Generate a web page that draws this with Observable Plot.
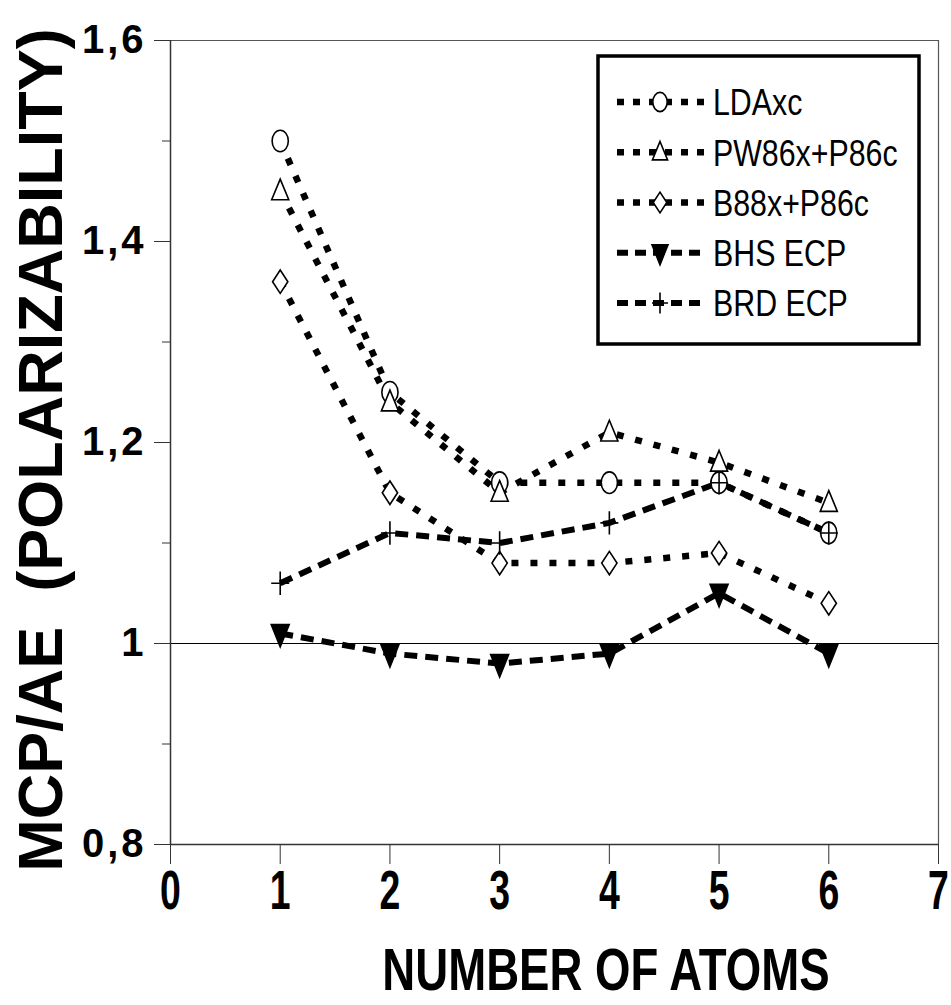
<!DOCTYPE html>
<html><head><meta charset="utf-8">
<script src="https://cdn.jsdelivr.net/npm/d3@7"></script>
<script src="https://cdn.jsdelivr.net/npm/@observablehq/plot@0.6"></script>
<style>body{margin:0;background:#fff}</style>
</head><body><div id="chart"></div>
<script>
const atoms = [1, 2, 3, 4, 5, 6];
const seriesNames = ["LDAxc", "PW86x+P86c", "B88x+P86c", "BHS ECP", "BRD ECP"];
const ldaxc = [1.50, 1.25, 1.16, 1.16, 1.16, 1.11];
const pw86 = [1.45, 1.24, 1.15, 1.21, 1.18, 1.14];
const b88 = [1.36, 1.15, 1.08, 1.08, 1.09, 1.04];
const bhs = [1.01, 0.99, 0.98, 0.99, 1.05, 0.99];
const brd = [1.06, 1.11, 1.10, 1.12, 1.16, 1.11];
const xTicks = [0, 1, 2, 3, 4, 5, 6, 7];
const yTicks = [0.8, 1.0, 1.2, 1.4, 1.6];
const yMinorTicks = [0.9, 1.1, 1.3, 1.5];
const xTitle = "NUMBER OF ATOMS";
const yTitle = "MCP/AE  (POLARIZABILITY)";

const valuesBySeries = [ldaxc, pw86, b88, bhs, brd];
const table = valuesBySeries.map((vals, i) => atoms.map((a, j) => ({series: seriesNames[i], atoms: a, value: vals[j]})));

function ellipse(ctx, rx, ry) {
  const k = 0.5523;
  ctx.moveTo(rx, 0);
  ctx.bezierCurveTo(rx, ry * k, rx * k, ry, 0, ry);
  ctx.bezierCurveTo(-rx * k, ry, -rx, ry * k, -rx, 0);
  ctx.bezierCurveTo(-rx, -ry * k, -rx * k, -ry, 0, -ry);
  ctx.bezierCurveTo(rx * k, -ry, rx, -ry * k, rx, 0);
  ctx.closePath();
}
const rOf = s => Math.sqrt(s / Math.PI);
const symCircle = {draw(ctx, s) { const r = rOf(s); ellipse(ctx, r * 0.9, r * 1.2); }};
const symTriUp = {draw(ctx, s) { const r = rOf(s); ctx.moveTo(0, -1.35 * r); ctx.lineTo(0.95 * r, 0.95 * r); ctx.lineTo(-0.95 * r, 0.95 * r); ctx.closePath(); }};
const symDiamond = {draw(ctx, s) { const r = rOf(s); ctx.moveTo(0, -1.3 * r); ctx.lineTo(0.85 * r, 0); ctx.lineTo(0, 1.3 * r); ctx.lineTo(-0.85 * r, 0); ctx.closePath(); }};
const symTriDown = {draw(ctx, s) { const r = rOf(s); ctx.moveTo(-1.0 * r, -1.0 * r); ctx.lineTo(1.0 * r, -1.0 * r); ctx.lineTo(0, 1.5 * r); ctx.closePath(); }};
const symPlus = {draw(ctx, s) { const r = rOf(s); ctx.moveTo(-1.0 * r, 0); ctx.lineTo(1.0 * r, 0); ctx.moveTo(0, -1.3 * r); ctx.lineTo(0, 1.3 * r); }};

const styles = [
  {sym: symCircle, fill: "white", dash: "7,12", lw: 6.5},
  {sym: symTriUp, fill: "white", dash: "7,12", lw: 6.5},
  {sym: symDiamond, fill: "white", dash: "7,12", lw: 6.5},
  {sym: symTriDown, fill: "black", dash: "13,8", lw: 6},
  {sym: symPlus, fill: "none", dash: "13,8", lw: 6}
];

const marks = [
  Plot.ruleY([1.6], {stroke: "#555", strokeWidth: 1.2}),
  Plot.ruleX([7], {stroke: "#555", strokeWidth: 1.2}),
  Plot.ruleY([1.0], {stroke: "#000", strokeWidth: 1.2}),
  Plot.ruleX([0], {stroke: "#333", strokeWidth: 1.5}),
  Plot.ruleY([0.8], {stroke: "#333", strokeWidth: 1.5}),
  Plot.axisY({ticks: yTicks, tickSize: 16, tickPadding: 8, tickFormat: d => String(+d.toFixed(1)).replace(".", ","),
    fontSize: 40, fontWeight: "bold", fontFamily: "Liberation Sans, Arial, sans-serif", label: null, stroke: "#333"}),
  Plot.axisY({ticks: yMinorTicks, tickSize: 8, tickFormat: () => "", label: null, stroke: "#333"}),
  Plot.axisX({ticks: xTicks, tickSize: 20, tickPadding: 5, tickFormat: d => String(d),
    fontSize: 55, fontWeight: "bold", fontFamily: "Liberation Sans, Arial, sans-serif", label: null, stroke: "#333"})
];
table.forEach((rows, i) => {
  const st = styles[i];
  marks.push(Plot.line(rows, {x: "atoms", y: "value", stroke: "black", strokeWidth: st.lw, strokeDasharray: st.dash, strokeLinecap: "butt"}));
});
table.forEach((rows, i) => {
  const st = styles[i];
  marks.push(Plot.dot(rows, {x: "atoms", y: "value", symbol: st.sym, r: 9, fill: st.fill, stroke: "black", strokeWidth: 1.6}));
});

const chart = Plot.plot({
  width: 951, height: 1005,
  marginLeft: 170, marginRight: 13, marginTop: 40, marginBottom: 161,
  x: {domain: [0, 7]},
  y: {domain: [0.8, 1.6]},
  style: {background: "white", color: "black"},
  marks
});
document.getElementById("chart").appendChild(chart);

const svg = d3.select(chart);

// condense x tick labels (narrow face) in place, horizontally only
svg.selectAll("g[aria-label='x-axis tick label'] text").each(function () {
  const k = 0.68;
  const t = this.getAttribute("transform") || "";
  const xa = parseFloat(this.getAttribute("x"));
  if (!isNaN(xa)) this.setAttribute("x", xa / k);
  this.setAttribute("transform", `${t} scale(${k},1)`);
});
svg.selectAll("g[aria-label='y-axis tick label'] text").style("letter-spacing", "3px");

// Titles
svg.append("text").attr("transform", "translate(606,990) scale(0.76,1)")
  .attr("text-anchor", "middle")
  .attr("font-family", "Liberation Sans, Arial, sans-serif")
  .attr("font-weight", "bold").attr("font-size", 60).text(xTitle);
svg.append("text").attr("transform", "translate(62,450) rotate(-90)")
  .attr("text-anchor", "middle")
  .attr("font-family", "Liberation Sans, Arial, sans-serif")
  .attr("font-weight", "bold").attr("font-size", 63).style("white-space", "pre").text(yTitle);

// Legend
const lg = svg.append("g");
lg.append("rect").attr("x", 598).attr("y", 56).attr("width", 321).attr("height", 288)
  .attr("fill", "white").attr("stroke", "black").attr("stroke-width", 3.5);
seriesNames.forEach((name, i) => {
  const st = styles[i];
  const cy = 102 + i * 50.25;
  lg.append("line").attr("x1", 617).attr("x2", 706).attr("y1", cy).attr("y2", cy)
    .attr("stroke", "black").attr("stroke-width", st.lw).attr("stroke-dasharray", i < 3 ? "7,9" : "11,7");
  const p = d3.path(); st.sym.draw(p, 64 * Math.PI);
  lg.append("path").attr("d", p.toString()).attr("transform", `translate(660,${cy})`)
    .attr("fill", st.fill === "none" ? "none" : st.fill).attr("stroke", "black").attr("stroke-width", 1.6);
  lg.append("text").attr("transform", `translate(713,${cy}) scale(0.82,1)`).attr("dy", "0.36em")
    .attr("text-anchor", "start")
    .attr("font-family", "Liberation Sans, Arial, sans-serif")
    .attr("font-size", 37).text(name);
});
</script>
</body></html>
